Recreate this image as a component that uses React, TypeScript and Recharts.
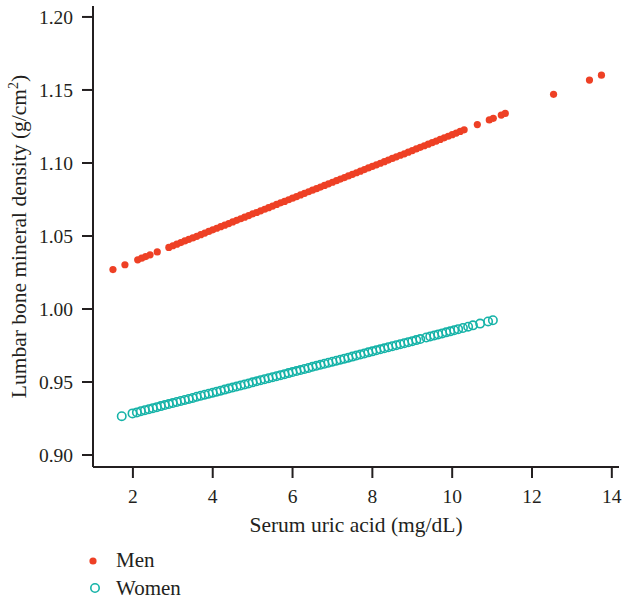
import React from 'react';
import { ScatterChart, Scatter, XAxis, YAxis, Legend } from 'recharts';

const FONT = "'Liberation Serif', 'Times New Roman', serif";
const INK = '#231f20';
const MEN_COLOR = '#ee4025';
const WOMEN_COLOR = '#16b3a8';

const xTicks = [2, 4, 6, 8, 10, 12, 14];
const yTicks = [0.9, 0.95, 1.0, 1.05, 1.1, 1.15, 1.2];

const menX = [
  1.5, 1.8, 2.12, 2.22, 2.32, 2.43, 2.61,
  2.9, 3.0, 3.1, 3.2, 3.3, 3.4, 3.5, 3.6, 3.7, 3.8, 3.9,
  4.0, 4.1, 4.2, 4.3, 4.4, 4.5, 4.6, 4.7, 4.8, 4.9,
  5.0, 5.1, 5.2, 5.3, 5.4, 5.5, 5.6, 5.7, 5.8, 5.9,
  6.0, 6.1, 6.2, 6.3, 6.4, 6.5, 6.6, 6.7, 6.8, 6.9,
  7.0, 7.1, 7.2, 7.3, 7.4, 7.5, 7.6, 7.7, 7.8, 7.9,
  8.0, 8.1, 8.2, 8.3, 8.4, 8.5, 8.6, 8.7, 8.8, 8.9,
  9.0, 9.1, 9.2, 9.3, 9.4, 9.5, 9.6, 9.7, 9.8, 9.9,
  10.0, 10.1, 10.2, 10.3,
  10.63, 10.93, 11.03, 11.23, 11.33, 12.54, 13.44, 13.74,
];
const menY = [
  1.027, 1.0303, 1.0337, 1.0348, 1.0359, 1.0371, 1.0391,
  1.0422, 1.0433, 1.0444, 1.0455, 1.0466, 1.0477, 1.0487, 1.0498, 1.0509, 1.052, 1.0531,
  1.0542, 1.0553, 1.0564, 1.0574, 1.0585, 1.0596, 1.0607, 1.0618, 1.0629, 1.064,
  1.0651, 1.0661, 1.0672, 1.0683, 1.0694, 1.0705, 1.0716, 1.0727, 1.0737, 1.0748,
  1.0759, 1.077, 1.0781, 1.0792, 1.0803, 1.0814, 1.0824, 1.0835, 1.0846, 1.0857,
  1.0868, 1.0879, 1.089, 1.09, 1.0911, 1.0922, 1.0933, 1.0944, 1.0955, 1.0966,
  1.0977, 1.0987, 1.0998, 1.1009, 1.102, 1.1031, 1.1042, 1.1053, 1.1063, 1.1074,
  1.1085, 1.1096, 1.1107, 1.1118, 1.1129, 1.114, 1.115, 1.1161, 1.1172, 1.1183,
  1.1194, 1.1205, 1.1216, 1.1227,
  1.1263, 1.1295, 1.1306, 1.1328, 1.1339, 1.147, 1.1568, 1.1601,
];

const womenX = [
  1.72, 1.99,
  2.1, 2.2, 2.3, 2.4, 2.5, 2.6, 2.7, 2.8, 2.9,
  3.0, 3.1, 3.2, 3.3, 3.4, 3.5, 3.6, 3.7, 3.8, 3.9,
  4.0, 4.1, 4.2, 4.3, 4.4, 4.5, 4.6, 4.7, 4.8, 4.9,
  5.0, 5.1, 5.2, 5.3, 5.4, 5.5, 5.6, 5.7, 5.8, 5.9,
  6.0, 6.1, 6.2, 6.3, 6.4, 6.5, 6.6, 6.7, 6.8, 6.9,
  7.0, 7.1, 7.2, 7.3, 7.4, 7.5, 7.6, 7.7, 7.8, 7.9,
  8.0, 8.1, 8.2, 8.3, 8.4, 8.5, 8.6, 8.7, 8.8, 8.9,
  9.0, 9.1, 9.2,
  9.35, 9.45, 9.55, 9.65, 9.75, 9.85, 9.95, 10.05, 10.15,
  10.27, 10.4, 10.52, 10.7, 10.9, 11.02,
];
const womenY = [
  0.9266, 0.9285,
  0.9292, 0.93, 0.9307, 0.9314, 0.9321, 0.9328, 0.9335, 0.9342, 0.9349,
  0.9356, 0.9363, 0.937, 0.9377, 0.9384, 0.9391, 0.9399, 0.9406, 0.9413, 0.942,
  0.9427, 0.9434, 0.9441, 0.9448, 0.9455, 0.9462, 0.9469, 0.9476, 0.9483, 0.949,
  0.9498, 0.9505, 0.9512, 0.9519, 0.9526, 0.9533, 0.954, 0.9547, 0.9554, 0.9561,
  0.9568, 0.9575, 0.9582, 0.9589, 0.9596, 0.9604, 0.9611, 0.9618, 0.9625, 0.9632,
  0.9639, 0.9646, 0.9653, 0.966, 0.9667, 0.9674, 0.9681, 0.9688, 0.9695, 0.9703,
  0.971, 0.9717, 0.9724, 0.9731, 0.9738, 0.9745, 0.9752, 0.9759, 0.9766, 0.9773,
  0.978, 0.9787, 0.9794,
  0.9805, 0.9812, 0.9819, 0.9826, 0.9833, 0.984, 0.9847, 0.9855, 0.9862,
  0.987, 0.9879, 0.9888, 0.99, 0.9915, 0.9923,
];

const menData = menX.map((x, i) => ({ x, y: menY[i] }));
const womenData = womenX.map((x, i) => ({ x, y: womenY[i] }));

const X_DOMAIN: [number, number] = [1.0, 14.18];
const Y_DOMAIN: [number, number] = [0.8918, 1.2075];

const MenShape = (p: any) => <circle cx={p.cx} cy={p.cy} r={3.6} fill={MEN_COLOR} />;
const WomenShape = (p: any) => (
  <circle cx={p.cx} cy={p.cy} r={4.2} fill="none" stroke={WOMEN_COLOR} strokeWidth={1.6} />
);

const YLabel = (props: any) => {
  const vb = props.viewBox || { x: 0, y: 6, width: 93, height: 461 };
  const cx = 26;
  const cy = vb.y + vb.height / 2;
  return (
    <text
      x={cx}
      y={cy}
      transform={`rotate(-90 ${cx} ${cy})`}
      textAnchor="middle"
      fontFamily={FONT}
      fontSize={21.5}
      fill={INK}
    >
      <tspan>Lumbar bone mineral density (g/cm</tspan>
      <tspan fontSize={14} dy={-8}>2</tspan>
      <tspan dy={8}>)</tspan>
    </text>
  );
};

const XLabel = (props: any) => {
  const vb = props.viewBox || { x: 93, y: 467, width: 526, height: 60 };
  return (
    <text
      x={vb.x + vb.width / 2}
      y={532}
      textAnchor="middle"
      fontFamily={FONT}
      fontSize={21.5}
      fill={INK}
    >
      Serum uric acid (mg/dL)
    </text>
  );
};

const LegendContent = () => (
  <svg width={140} height={56} style={{ display: 'block' }}>
    <circle cx={8} cy={12} r={3.6} fill={MEN_COLOR} />
    <text x={31} y={18} fontFamily={FONT} fontSize={21} fill={INK}>Men</text>
    <circle cx={10} cy={39} r={4.2} fill="none" stroke={WOMEN_COLOR} strokeWidth={1.6} />
    <text x={31} y={46} fontFamily={FONT} fontSize={21} fill={INK}>Women</text>
  </svg>
);

export default function App() {
  return (
    <div style={{ position: 'absolute', left: 0, top: 0, background: '#fff' }}>
      <ScatterChart width={622} height={610} margin={{ top: 6, right: 3, bottom: 83, left: 0 }}>
        <XAxis
          xAxisId="main"
          type="number"
          dataKey="x"
          domain={X_DOMAIN}
          allowDataOverflow
          ticks={xTicks}
          height={60}
          tickSize={11}
          tickMargin={11}
          tick={{ fontFamily: FONT, fontSize: 19.5, fill: INK }}
          axisLine={{ stroke: INK, strokeWidth: 2 }}
          tickLine={{ stroke: INK, strokeWidth: 2 }}
          label={<XLabel />}
        />
        <XAxis
          xAxisId="top"
          orientation="top"
          type="number"
          domain={X_DOMAIN}
          allowDataOverflow
          height={0}
          tick={false}
          tickLine={false}
          axisLine={{ stroke: '#333', strokeWidth: 2 }}
        />
        <YAxis
          yAxisId="main"
          type="number"
          dataKey="y"
          domain={Y_DOMAIN}
          allowDataOverflow
          ticks={yTicks}
          width={93}
          tickSize={11}
          tickMargin={9}
          tickFormatter={(v: number) => v.toFixed(2)}
          tick={{ fontFamily: FONT, fontSize: 19.5, fill: INK }}
          axisLine={{ stroke: INK, strokeWidth: 2 }}
          tickLine={{ stroke: INK, strokeWidth: 2 }}
          label={<YLabel />}
        />
        <YAxis
          yAxisId="right"
          orientation="right"
          type="number"
          domain={Y_DOMAIN}
          allowDataOverflow
          width={0}
          tick={false}
          tickLine={false}
          axisLine={{ stroke: '#333', strokeWidth: 2 }}
        />
        <Scatter
          name="Men"
          data={menData}
          xAxisId="main"
          yAxisId="main"
          shape={MenShape}
          isAnimationActive={false}
        />
        <Scatter
          name="Women"
          data={womenData}
          xAxisId="main"
          yAxisId="main"
          shape={WomenShape}
          isAnimationActive={false}
        />
        <Legend
          layout="vertical"
          align="center"
          verticalAlign="middle"
          content={<LegendContent />}
          wrapperStyle={{ left: 85, top: 549, width: 140, height: 56 }}
        />
      </ScatterChart>
    </div>
  );
}
